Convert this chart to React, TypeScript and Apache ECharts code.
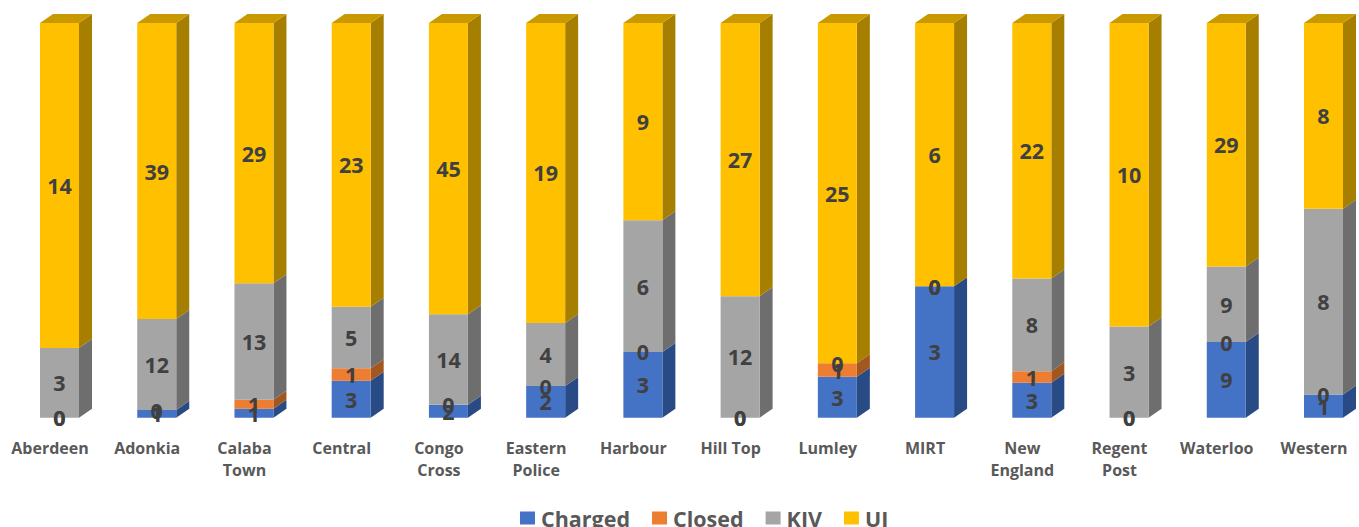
import React, { useEffect, useRef } from "react";
import * as echarts from "echarts";

const categories = ["Aberdeen", "Adonkia", "Calaba\nTown", "Central", "Congo\nCross", "Eastern\nPolice", "Harbour", "Hill Top", "Lumley", "MIRT", "New\nEngland", "Regent\nPost", "Waterloo", "Western"];
const charged = [0, 1, 1, 3, 2, 2, 3, 0, 3, 3, 3, 0, 9, 1];
const closed = [0, 0, 1, 1, 0, 0, 0, 0, 1, 0, 1, 0, 0, 0];
const kiv = [3, 12, 13, 5, 14, 4, 6, 12, 0, 0, 8, 3, 9, 8];
const ui = [14, 39, 29, 23, 45, 19, 9, 27, 25, 6, 22, 10, 29, 8];

const seriesNames = ["Charged", "Closed", "KIV", "UI"];
const seriesValues = [charged, closed, kiv, ui];
const frontColors = ["#4472C4", "#ED7D31", "#A5A5A5", "#FFC000"];
const sideColors = ["#294B85", "#A25620", "#6E6E6E", "#A67F00"];
const topColors = ["#35599C", "#BE6427", "#848484", "#C89A00"];

const BAR_WIDTH = 39;
const DEPTH_X = 13;
const DEPTH_Y = 9;
const BAR_SHIFT = 9.5;

function rows(seriesIndex: number) {
  return categories.map((_, i) => {
    const total = seriesValues.reduce((s, v) => s + v[i], 0);
    let before = 0;
    for (let k = 0; k < seriesIndex; k++) before += seriesValues[k][i];
    const value = seriesValues[seriesIndex][i];
    return [i, before / total, (before + value) / total, value];
  });
}

function barRenderer(seriesIndex: number) {
  return (_p: any, api: any) => {
    const start = api.coord([api.value(0), api.value(1)]);
    const end = api.coord([api.value(0), api.value(2)]);
    const x1 = start[0] + BAR_SHIFT - BAR_WIDTH / 2;
    const x2 = x1 + BAR_WIDTH;
    const yb = start[1];
    const yt = end[1];
    if (yb - yt < 0.01) return { type: "group", children: [] };
    const children: any[] = [
      { type: "polygon", shape: { points: [[x2, yb], [x2 + DEPTH_X, yb - DEPTH_Y], [x2 + DEPTH_X, yt - DEPTH_Y], [x2, yt]] }, style: { fill: sideColors[seriesIndex] } },
      { type: "rect", shape: { x: x1, y: yt, width: BAR_WIDTH, height: yb - yt }, style: { fill: frontColors[seriesIndex] } },
    ];
    if (api.value(2) >= 0.9999) {
      children.push({ type: "polygon", shape: { points: [[x1, yt], [x1 + DEPTH_X, yt - DEPTH_Y], [x2 + DEPTH_X, yt - DEPTH_Y], [x2, yt]] }, style: { fill: topColors[seriesIndex] } });
    }
    return { type: "group", children };
  };
}

function labelRenderer(_p: any, api: any) {
  const pos = api.coord([api.value(0), (api.value(1) + api.value(2)) / 2]);
  return {
    type: "text",
    x: pos[0] + BAR_SHIFT,
    y: pos[1],
    style: {
      text: String(api.value(3)),
      fill: "#404040",
      font: 'bold 21.5px "Open Sans"',
      textAlign: "center",
      textVerticalAlign: "middle",
    },
  };
}

export default function App() {
  const ref = useRef<HTMLDivElement>(null);
  useEffect(() => {
    const chart = echarts.init(ref.current!, null, { renderer: "svg" });
    const barSeries = seriesNames.map((name, s) => ({
      type: "custom",
      name,
      data: rows(s),
      renderItem: barRenderer(s),
      itemStyle: { color: frontColors[s] },
      encode: { x: 0, y: [1, 2] },
      z: 2,
    }));
    const labelSeries = seriesNames.map((_, s) => ({
      type: "custom",
      name: "label" + s,
      data: rows(s),
      renderItem: labelRenderer,
      encode: { x: 0, y: [1, 2] },
      z: 5,
    }));
    chart.setOption({
      animation: false,
      backgroundColor: "#ffffff",
      grid: { left: 50, width: 1264, top: 23, height: 394.7, containLabel: false },
      xAxis: {
        type: "category",
        boundaryGap: false,
        data: categories,
        axisLine: { show: false },
        axisTick: { show: false },
        axisLabel: {
          interval: 0,
          margin: 19,
          color: "#595959",
          fontFamily: "Open Sans",
          fontWeight: "bold",
          fontSize: 16,
          lineHeight: 22,
        },
      },
      yAxis: { type: "value", min: 0, max: 1, show: false },
      legend: {
        data: seriesNames,
        left: 520,
        top: 507,
        padding: 0,
        icon: "rect",
        itemWidth: 15,
        itemHeight: 13,
        itemGap: 22,
        selectedMode: false,
        textStyle: { color: "#595959", fontFamily: "Open Sans", fontWeight: "bold", fontSize: 21.5, padding: [0, 0, 0, 1] },
      },
      series: [...barSeries, ...labelSeries],
    });
    return () => chart.dispose();
  }, []);
  return <div ref={ref} style={{ position: "fixed", left: 0, top: 0, width: 1359, height: 527 }} />;
}
